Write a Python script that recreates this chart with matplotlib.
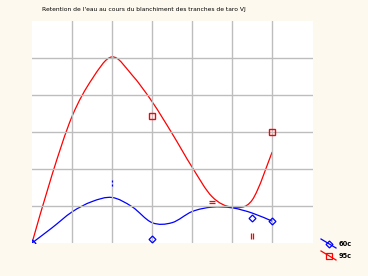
import matplotlib.pyplot as plt
from matplotlib.lines import Line2D
from matplotlib.path import Path
from matplotlib.patches import PathPatch

# curves (x in grid units, y in grid units)
curve_x = [0, 0.5, 1.0, 1.5, 2.0, 2.5, 3.0, 3.5, 4.0, 4.5, 5.0, 5.5, 6.0]
red_y = [0, 1.84, 3.42, 4.43, 5.03, 4.54, 3.82, 2.96, 2.05, 1.25, 0.97, 1.16, 2.46]
blue_y = [0, 0.41, 0.84, 1.12, 1.23, 0.98, 0.55, 0.55, 0.85, 0.97, 0.95, 0.81, 0.59]

# measured points
red_pts_x = [3.0, 6.0]
red_pts_y = [3.43, 3.0]
red_odd_x = [4.5, 5.5]
red_odd_y = [1.1, 0.19]
blue_pts_x = [0.0, 3.0, 5.5, 6.0]
blue_pts_y = [0.0, 0.12, 0.68, 0.59]
blue_odd_x = [2.0]
blue_odd_y = [1.62]

labels = ['60c', '95c']
title = "Retention de l'eau au cours du blanchiment des tranches de taro VJ"


def smooth_path(xs, ys):
    # smoothed line through the points (Catmull-Rom as bezier)
    pts = list(zip(xs, ys))
    verts = [pts[0]]
    codes = [Path.MOVETO]
    for i in range(len(pts) - 1):
        p0 = pts[i - 1] if i > 0 else pts[i]
        p1, p2 = pts[i], pts[i + 1]
        p3 = pts[i + 2] if i + 2 < len(pts) else pts[i + 1]
        c1 = (p1[0] + (p2[0] - p0[0]) / 6, p1[1] + (p2[1] - p0[1]) / 6)
        c2 = (p2[0] - (p3[0] - p1[0]) / 6, p2[1] - (p3[1] - p1[1]) / 6)
        verts += [c1, c2, p2]
        codes += [Path.CURVE4] * 3
    return Path(verts, codes)


bg = '#fef9ee'
fig = plt.figure(figsize=(3.68, 2.76), dpi=100, facecolor=bg)
ax = fig.add_axes([32/368, 1-243/276, 281/368, 222/276])
ax.set_facecolor('white')
ax.set_xlim(0, 7.02)
ax.set_ylim(0, 6)
ax.set_xticks(range(1, 7))
ax.set_yticks(range(1, 6))
ax.grid(True, color='#bdbdbd', linewidth=1)
ax.tick_params(length=0, labelbottom=False, labelleft=False)
for s in ax.spines.values():
    s.set_visible(False)

ax.add_patch(PathPatch(smooth_path(curve_x, red_y), fc='none', ec='#ff0000', lw=0.9))
ax.add_patch(PathPatch(smooth_path(curve_x, blue_y), fc='none', ec='#0000ff', lw=0.9))
ax.plot(red_pts_x, red_pts_y, 's', mfc='none', mec='#ff0000', ms=4.5, mew=1)
ax.plot(blue_pts_x, blue_pts_y, 'D', mfc='none', mec='#0000ff', ms=3.5, mew=0.9)

eq = Path([(-1, 0.5), (1, 0.5), (-1, -0.5), (1, -0.5)],
          [Path.MOVETO, Path.LINETO, Path.MOVETO, Path.LINETO])
bars = Path([(-0.5, -1), (-0.5, 1), (0.5, -1), (0.5, 1)],
            [Path.MOVETO, Path.LINETO, Path.MOVETO, Path.LINETO])
colon = Path([(0, 1), (0, 0.4), (0, -0.4), (0, -1)],
             [Path.MOVETO, Path.LINETO, Path.MOVETO, Path.LINETO])
ax.plot(red_odd_x[:1], red_odd_y[:1], marker=eq, ls='none', mec='#ff0000', ms=4, mew=0.9)
ax.plot(red_odd_x[1:], red_odd_y[1:], marker=bars, ls='none', mec='#ff0000', ms=4, mew=0.9)
ax.plot(blue_odd_x, blue_odd_y, marker=colon, ls='none', mec='#0000ff', ms=4, mew=0.9)

# legend with slanted lines
for i, (lab, col, mk) in enumerate(zip(labels, ['#0000ff', '#ff0000'], ['D', 's'])):
    y0 = 1 - (239 + i*12)/276
    y1 = 1 - (248 + i*12)/276
    fig.add_artist(Line2D([321/368, 336/368], [y0, y1], color=col, linewidth=0.9,
                          transform=fig.transFigure))
    fig.add_artist(Line2D([328.5/368], [(y0+y1)/2], marker=mk, mfc='none', mec=col,
                          ms=3.5 if mk == 'D' else 4, mew=0.9, transform=fig.transFigure))
    fig.text(339/368, (y0+y1)/2, lab, fontsize=4.8, fontweight='bold', va='center',
             family=['Liberation Sans Narrow', 'DejaVu Sans'])

fig.text(42/368, 1-9/276, title, fontsize=4.3, va='center',
         family=['Liberation Sans Narrow', 'DejaVu Sans'])

fig.savefig('out.png', dpi=100, facecolor=bg)
